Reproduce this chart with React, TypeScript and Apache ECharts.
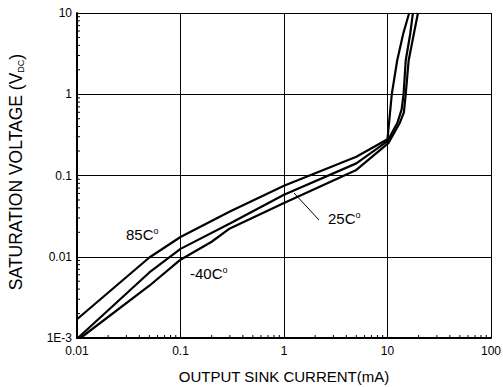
import React, { useEffect, useRef } from "react";
import * as echarts from "echarts";

// Output sink current (mA) and saturation voltage (V) per temperature
const current85 = [0.01, 0.05, 0.1, 0.3, 1, 5, 10, 11.0, 12.4, 14.2, 16.2];
const volt85 = [0.0017, 0.0098, 0.0175, 0.036, 0.075, 0.17, 0.28, 1.0, 2.6, 5.6, 10];

const current25 = [0.0102, 0.05, 0.1, 0.3, 1, 5, 10, 12.5, 13.7, 14.3, 15.0, 16.6, 17.6];
const volt25 = [0.001, 0.0064, 0.0125, 0.0257, 0.058, 0.141, 0.265, 0.45, 0.65, 1.0, 2.6, 5.6, 10];

const currentM40 = [0.0108, 0.05, 0.1, 0.2, 0.3, 1, 5, 10.2, 13.2, 14.4, 15.0, 16.0, 18.0, 19.7];
const voltM40 = [0.001, 0.0044, 0.0092, 0.0153, 0.0223, 0.046, 0.117, 0.25, 0.45, 0.6, 1.0, 2.6, 5.6, 10];

const xTickLabels = ["0.01", "0.1", "1", "10", "100"];
const yTickLabels = ["1E-3", "0.01", "0.1", "1", "10"];
const xDecades = [0.01, 0.1, 1, 10];
const yDecades = [0.001, 0.01, 0.1, 1];
const minorSteps = [2, 3, 4, 5, 6, 7, 8, 9];

const X_MIN = 0.01, X_MAX = 100, Y_MIN = 0.001, Y_MAX = 10;

const FONT = "'Liberation Sans', Arial, sans-serif";

export default function App() {
  const ref = useRef<HTMLDivElement>(null);
  useEffect(() => {
    if (!ref.current) return;
    const chart = echarts.init(ref.current, null, { renderer: "svg" });
    const zip = (xs: number[], ys: number[]) => xs.map((x, i) => [x, ys[i]]);
    const xMinor: number[][] = [];
    xDecades.forEach((d) => minorSteps.forEach((m) => xMinor.push([+(d * m).toPrecision(6), Y_MIN])));
    const yMinor: number[][] = [];
    yDecades.forEach((d) => minorSteps.forEach((m) => yMinor.push([X_MIN, +(d * m).toPrecision(6)])));

    const lineSeries = (data: number[][]) => ({
      type: "line",
      data,
      showSymbol: false,
      symbol: "none",
      smooth: false,
      lineStyle: { color: "#000", width: 2.2 },
      silent: true,
      z: 5,
    });

    const degreeRich = {
      a: { fontSize: 15, fontFamily: FONT, fill: "#000", lineHeight: 15 },
      b: { fontSize: 9, fontFamily: FONT, fill: "#000", lineHeight: 10, verticalAlign: "top" },
    };

    chart.setOption({
      animation: false,
      backgroundColor: "#fff",
      grid: { left: 77, right: 12, top: 13, bottom: 49, outerBoundsMode: "none" },
      xAxis: {
        type: "log",
        logBase: 10,
        min: X_MIN,
        max: X_MAX,
        axisLine: { show: true, lineStyle: { color: "#000", width: 2 } },
        axisTick: { show: false },
        axisLabel: {
          color: "#000",
          fontSize: 12,
          fontFamily: FONT,
          margin: 7,
          formatter: (_v: number, i: number) => xTickLabels[i],
        },
        splitLine: { show: true, lineStyle: { color: "#000", width: 1 } },
      },
      yAxis: {
        type: "log",
        logBase: 10,
        min: Y_MIN,
        max: Y_MAX,
        axisLine: { show: true, lineStyle: { color: "#000", width: 2 } },
        axisTick: { show: false },
        axisLabel: {
          color: "#000",
          fontSize: 12,
          fontFamily: FONT,
          margin: 5,
          formatter: (_v: number, i: number) => yTickLabels[i],
        },
        splitLine: { show: true, lineStyle: { color: "#000", width: 1 } },
      },
      series: [
        lineSeries(zip(current85, volt85)),
        lineSeries(zip(current25, volt25)),
        lineSeries(zip(currentM40, voltM40)),
        {
          type: "custom",
          silent: true,
          clip: false,
          data: xMinor,
          renderItem: (_p: any, api: any) => {
            const c = api.coord([api.value(0), api.value(1)]);
            return {
              type: "line",
              shape: { x1: c[0], y1: c[1], x2: c[0], y2: c[1] - 3 },
              style: { stroke: "#000", lineWidth: 1 },
            };
          },
          z: 6,
        },
        {
          type: "custom",
          silent: true,
          clip: false,
          data: yMinor,
          renderItem: (_p: any, api: any) => {
            const c = api.coord([api.value(0), api.value(1)]);
            return {
              type: "line",
              shape: { x1: c[0], y1: c[1], x2: c[0] + 3, y2: c[1] },
              style: { stroke: "#000", lineWidth: 1 },
            };
          },
          z: 6,
        },
      ],
      graphic: [
        {
          type: "text",
          x: 16,
          y: 172,
          rotation: Math.PI / 2,
          style: {
            text: "{n|SATURATION VOLTAGE (V}{s|DC}{n|)}",
            align: "center",
            verticalAlign: "middle",
            fill: "#000",
            rich: {
              n: { fontSize: 17.5, fontFamily: FONT, fill: "#000", lineHeight: 18 },
              s: { fontSize: 9, fontFamily: FONT, fill: "#000", lineHeight: 18, verticalAlign: "bottom", padding: [5, 0, 0, 0] },
            },
          },
        },
        {
          type: "text",
          x: 284,
          y: 376,
          style: {
            text: "OUTPUT SINK CURRENT(mA)",
            align: "center",
            verticalAlign: "middle",
            fontSize: 15,
            fontFamily: FONT,
            fill: "#000",
          },
        },
        {
          type: "text",
          x: 126,
          y: 234,
          style: { text: "{a|85C}{b|o}", verticalAlign: "middle", rich: degreeRich },
        },
        {
          type: "text",
          x: 190,
          y: 273,
          style: { text: "{a|-40C}{b|o}", verticalAlign: "middle", rich: degreeRich },
        },
        {
          type: "text",
          x: 328,
          y: 218,
          style: { text: "{a|25C}{b|o}", verticalAlign: "middle", rich: degreeRich },
        },
        {
          type: "line",
          shape: { x1: 294, y1: 193, x2: 319, y2: 220 },
          style: { stroke: "#000", lineWidth: 1 },
        },
      ],
    });
    return () => chart.dispose();
  }, []);
  return (
    <div
      ref={ref}
      style={{ position: "fixed", left: 0, top: 0, width: 503, height: 387, background: "#fff" }}
    />
  );
}
